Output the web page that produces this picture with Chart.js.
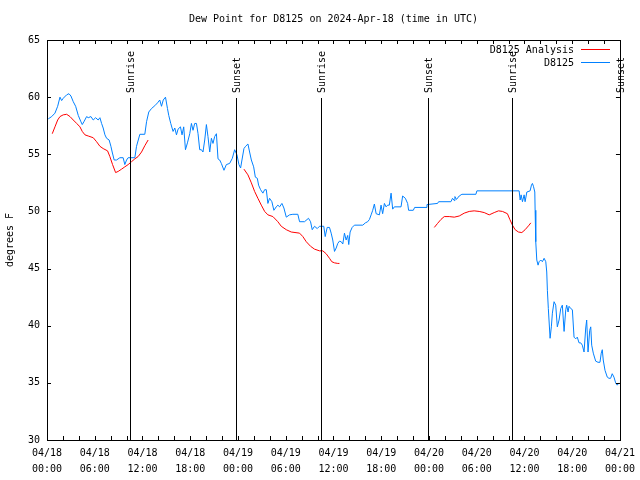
<!DOCTYPE html>
<html>
<head>
<meta charset="utf-8">
<script src="https://cdn.jsdelivr.net/npm/chart.js@4/dist/chart.umd.min.js"></script>
<style>
  body { margin: 0; background: #fff; }
  #wrap { width: 640px; height: 480px; }
</style>
</head>
<body>
<div id="wrap"><canvas id="myChart" width="640" height="480"></canvas></div>
<script>
// hours since 04/18 00:00 UTC, dew point in F
const d8125 = [
    [0.16, 58.1], [0.59, 58.3], [1.0, 58.6], [1.34, 59.2], [1.63, 60.0], [1.84, 59.7],
    [2.04, 59.9], [2.47, 60.2], [2.76, 60.3], [3.01, 60.1], [3.3, 59.6], [3.6, 59.2],
    [3.93, 58.4], [4.23, 57.9], [4.43, 57.6], [4.68, 57.9], [4.98, 58.3], [5.18, 58.2],
    [5.52, 58.3], [5.81, 58.0], [6.11, 58.2], [6.43, 58.0], [6.65, 58.2], [6.86, 57.7],
    [7.06, 57.3], [7.28, 56.7], [7.49, 56.4], [7.81, 56.25], [8.03, 55.7], [8.19, 55.2],
    [8.44, 54.5], [8.74, 54.5], [9.16, 54.7], [9.57, 54.7], [9.78, 54.1], [10.0, 54.5],
    [10.2, 54.7], [10.54, 54.7], [11.04, 54.7], [11.25, 55.7], [11.67, 56.75], [12.29, 56.75],
    [12.51, 57.85], [12.79, 58.7], [13.13, 59.0], [13.55, 59.25], [13.89, 59.5], [14.17, 59.75],
    [14.39, 59.2], [14.61, 59.75], [14.89, 60.0], [15.14, 59.0], [15.3, 58.4], [15.55, 57.7],
    [15.84, 57.0], [16.06, 57.3], [16.27, 56.7], [16.47, 57.2], [16.77, 57.4], [16.97, 56.7],
    [17.18, 57.4], [17.4, 55.4], [17.65, 56.0], [17.94, 56.8], [18.15, 57.7], [18.35, 57.1],
    [18.56, 57.7], [18.78, 57.7], [18.98, 56.8], [19.19, 55.4], [19.4, 55.4], [19.6, 55.2],
    [19.82, 56.25], [20.03, 57.6], [20.23, 56.55], [20.45, 55.2], [20.66, 56.4], [20.86, 55.95],
    [21.07, 56.55], [21.29, 56.8], [21.49, 54.6], [21.7, 54.5], [21.91, 54.2], [22.24, 53.6],
    [22.54, 54.1], [22.95, 54.2], [23.29, 54.65], [23.58, 55.4], [23.87, 54.95], [24.12, 54.1],
    [24.33, 53.8], [24.5, 54.5], [24.75, 55.5], [24.96, 55.7], [25.25, 55.9], [25.46, 55.2],
    [25.68, 54.5], [25.97, 53.9], [26.18, 53.0], [26.43, 52.9], [26.59, 52.3], [26.84, 51.9],
    [27.13, 51.6], [27.35, 51.9], [27.56, 51.9], [27.76, 50.7], [27.97, 51.15], [28.26, 50.85],
    [28.51, 50.1], [28.81, 50.4], [29.01, 50.55], [29.23, 50.4], [29.52, 50.7], [29.77, 50.3],
    [30.07, 49.5], [30.48, 49.7], [30.9, 49.75], [31.52, 49.75], [31.74, 49.1], [32.36, 49.1],
    [32.86, 49.4], [33.12, 49.1], [33.33, 48.4], [33.62, 48.7], [33.96, 48.5], [34.24, 48.7],
    [34.78, 48.7], [34.96, 47.8], [35.21, 48.6], [35.5, 48.6], [35.71, 48.1], [35.91, 47.5],
    [36.13, 46.5], [36.34, 46.8], [36.54, 47.2], [36.75, 47.4], [36.97, 47.35], [37.17, 47.15],
    [37.38, 48.1], [37.59, 47.5], [37.79, 47.9], [37.92, 47.1], [38.09, 48.2], [38.35, 48.6],
    [38.63, 48.8], [39.68, 48.8], [40.01, 49.0], [40.3, 49.1], [40.52, 49.3], [40.73, 49.7],
    [40.93, 50.1], [41.14, 50.65], [41.36, 49.8], [41.77, 49.7], [41.98, 50.55], [42.18, 49.8],
    [42.4, 50.7], [42.61, 50.4], [42.81, 50.55], [43.02, 50.55], [43.24, 51.6], [43.44, 50.2],
    [43.65, 50.4], [44.49, 50.4], [44.69, 51.35], [45.03, 51.15], [45.32, 50.7], [45.44, 50.1],
    [46.03, 50.1], [46.2, 50.35], [47.63, 50.35], [47.75, 50.6], [49.08, 50.7], [49.21, 50.85],
    [50.76, 50.85], [50.96, 51.15], [51.18, 50.95], [51.26, 51.3], [51.46, 51.05], [51.8, 51.35],
    [52.14, 51.5], [53.9, 51.5], [54.02, 51.8], [59.33, 51.8], [59.46, 51.0], [59.58, 51.45],
    [59.75, 50.85], [59.96, 51.45], [60.08, 50.85], [60.3, 51.7], [60.71, 51.8], [60.88, 52.3],
    [61.0, 52.45], [61.13, 52.2], [61.3, 51.7], [61.34, 50.1], [61.42, 47.35], [61.55, 45.75],
    [61.71, 45.3], [61.84, 45.6], [62.05, 45.75], [62.25, 45.6], [62.47, 45.9], [62.68, 45.6],
    [62.8, 44.7], [62.88, 43.1], [63.0, 41.5], [63.22, 38.9], [63.38, 39.9], [63.51, 41.1],
    [63.72, 42.1], [63.93, 41.8], [64.13, 39.9], [64.35, 40.5], [64.56, 41.5], [64.76, 41.8],
    [64.98, 39.5], [65.19, 41.4], [65.31, 41.8], [65.48, 41.2], [65.6, 41.7], [65.82, 41.5],
    [66.02, 41.4], [66.23, 39.0], [66.44, 38.85], [66.64, 39.0], [66.86, 38.5], [67.07, 38.5],
    [67.27, 38.3], [67.49, 37.7], [67.7, 39.8], [67.82, 40.5], [67.99, 37.7], [68.2, 39.6],
    [68.33, 39.9], [68.45, 38.3], [68.65, 37.6], [68.95, 36.9], [69.24, 36.8], [69.49, 36.8],
    [69.65, 37.6], [69.78, 37.9], [69.9, 37.0], [70.12, 36.1], [70.41, 35.5], [70.62, 35.4],
    [70.83, 35.4], [71.03, 35.8], [71.25, 35.5], [71.46, 35.0], [71.66, 34.8], [71.87, 35.0]
];

// null = no analysis
const d8125Analysis = [
    [0.66, 56.8], [1.0, 57.4], [1.34, 58.0], [1.63, 58.3], [2.04, 58.45], [2.47, 58.5],
    [2.89, 58.3], [3.3, 58.0], [3.73, 57.7], [4.14, 57.4], [4.43, 57.0], [4.77, 56.7],
    [5.18, 56.6], [5.81, 56.45], [6.23, 56.1], [6.65, 55.7], [7.06, 55.5], [7.61, 55.3],
    [7.9, 54.8], [8.24, 54.1], [8.62, 53.4], [8.94, 53.5], [9.37, 53.7], [9.78, 53.9],
    [10.2, 54.1], [10.62, 54.35], [11.04, 54.6], [11.45, 54.8], [11.88, 55.2], [12.29, 55.75],
    [12.71, 56.25], [18, null],
    [24.75, 53.7], [25.25, 53.2], [25.68, 52.5], [26.09, 51.75], [26.5, 51.15], [26.93, 50.55],
    [27.35, 50.0], [27.76, 49.7], [28.39, 49.55], [29.01, 49.1], [29.44, 48.7], [30.07, 48.4],
    [30.69, 48.2], [31.74, 48.1], [32.15, 47.8], [32.58, 47.35], [33.12, 46.95], [33.62, 46.7],
    [34.24, 46.55], [34.66, 46.55], [35.08, 46.3], [35.5, 45.9], [35.79, 45.6], [36.13, 45.5],
    [36.54, 45.45], [36.75, 45.45], [42, null],
    [48.67, 48.6], [49.08, 48.95], [49.51, 49.3], [49.92, 49.55], [50.55, 49.55], [51.18, 49.5],
    [51.8, 49.6], [52.43, 49.85], [53.06, 50.0], [53.68, 50.05], [54.31, 50.0], [54.94, 49.9],
    [55.57, 49.7], [56.2, 49.9], [56.74, 50.05], [57.24, 50.0], [57.86, 49.8], [58.16, 49.3],
    [58.49, 48.8], [58.83, 48.4], [59.24, 48.2], [59.67, 48.15], [60.08, 48.4], [60.58, 48.8],
    [60.8, 49.0]
];

const sunHours = [10.42, 23.72, 34.38, 47.9, 58.42, 72];
const sunLabels = ["Sunrise", "Sunset", "Sunrise", "Sunset", "Sunrise", "Sunset"];

const xTickLabels = [
    ["04/18", "00:00"], ["04/18", "06:00"], ["04/18", "12:00"], ["04/18", "18:00"],
    ["04/19", "00:00"], ["04/19", "06:00"], ["04/19", "12:00"], ["04/19", "18:00"],
    ["04/20", "00:00"], ["04/20", "06:00"], ["04/20", "12:00"], ["04/20", "18:00"],
    ["04/21", "00:00"]
];

const FONT = { family: "'DejaVu Sans Mono', 'Liberation Mono', monospace", size: 10 };

const toPoints = (arr) => arr.map((p) => ({ x: p[0], y: p[1] }));

// border box, inward ticks, sunrise/sunset lines and the legend
const decorations = {
    id: "decorations",
    afterDatasetsDraw(chart) {
        const { ctx, chartArea: a, scales } = chart;
        const xs = scales.x, ys = scales.y;
        ctx.save();
        ctx.strokeStyle = "#000";
        ctx.lineWidth = 1;
        ctx.beginPath();
        for (let h = 0; h <= 72; h += 2) {
            const px = Math.round(xs.getPixelForValue(h)) + 0.5;
            ctx.moveTo(px, a.bottom); ctx.lineTo(px, a.bottom - 4);
            ctx.moveTo(px, a.top); ctx.lineTo(px, a.top + 4);
        }
        for (let v = 30; v <= 65; v += 5) {
            const py = Math.round(ys.getPixelForValue(v)) + 0.5;
            ctx.moveTo(a.left, py); ctx.lineTo(a.left + 4, py);
            ctx.moveTo(a.right, py); ctx.lineTo(a.right - 4, py);
        }
        ctx.stroke();
        ctx.strokeRect(Math.round(a.left) + 0.5, Math.round(a.top) + 0.5,
            Math.round(a.right - a.left), Math.round(a.bottom - a.top));

        // sunrise / sunset
        ctx.font = "10px " + FONT.family;
        ctx.fillStyle = "#000";
        sunHours.forEach((h, i) => {
            const px = Math.round(xs.getPixelForValue(h)) + 0.5;
            ctx.beginPath();
            ctx.moveTo(px, 98); ctx.lineTo(px, a.bottom);
            ctx.stroke();
            ctx.save();
            ctx.translate(px + 1, 93);
            ctx.rotate(-Math.PI / 2);
            ctx.textAlign = "left";
            ctx.textBaseline = "middle";
            ctx.fillText(sunLabels[i], 0, 0);
            ctx.restore();
        });

        // legend
        ctx.textAlign = "right";
        ctx.textBaseline = "middle";
        chart.data.datasets.forEach((ds, i) => {
            const y = 50 + i * 13;
            ctx.fillStyle = "#000";
            ctx.fillText(ds.label, 574, y);
            ctx.strokeStyle = ds.borderColor;
            ctx.beginPath();
            ctx.moveTo(581, y - 0.5); ctx.lineTo(610, y - 0.5);
            ctx.stroke();
        });
        ctx.restore();
    },
};

const ctx = document.getElementById("myChart");
new Chart(ctx, {
    type: "line",
    data: {
        datasets: [
            {
                label: "D8125 Analysis",
                data: toPoints(d8125Analysis),
                borderColor: "#ff0000",
                borderWidth: 1,
                pointRadius: 0,
                spanGaps: false,
            },
            {
                label: "D8125",
                data: toPoints(d8125),
                borderColor: "#0080ff",
                borderWidth: 1,
                pointRadius: 0,
            },
        ],
    },
    options: {
        responsive: false,
        animation: false,
        layout: { padding: { left: 0, right: 19, top: 0, bottom: 0 } },
        plugins: {
            legend: { display: false },
            tooltip: { enabled: false },
            title: {
                display: true,
                fullSize: false,
                text: "Dew Point for D8125 on 2024-Apr-18 (time in UTC)",
                color: "#000",
                font: { ...FONT, weight: "normal", lineHeight: 1.2 },
                padding: { top: 13, bottom: 15 },
            },
        },
        scales: {
            x: {
                type: "linear",
                min: 0,
                max: 72,
                grid: { drawOnChartArea: false, drawTicks: false },
                border: { display: false },
                afterFit: (s) => { s.height = 40; },
                ticks: {
                    stepSize: 6,
                    autoSkip: false,
                    maxRotation: 0,
                    padding: 5,
                    color: "#000",
                    font: { ...FONT, lineHeight: 1.6 },
                    callback: (v, i) => xTickLabels[i],
                },
            },
            y: {
                min: 30,
                max: 65,
                grid: { drawOnChartArea: false, drawTicks: false },
                border: { display: false },
                afterFit: (s) => { s.width = 47; },
                ticks: { stepSize: 5, padding: 7, color: "#000", font: FONT },
                title: {
                    display: true,
                    text: "degrees F",
                    color: "#000",
                    font: { ...FONT, lineHeight: 1.2 },
                    padding: { top: 4, bottom: 0 },
                },
            },
        },
    },
    plugins: [decorations],
});
</script>
</body>
</html>
